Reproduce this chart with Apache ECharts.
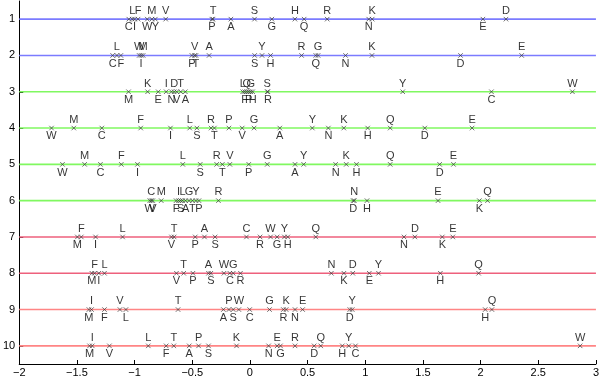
<!DOCTYPE html>
<html>
<head>
<meta charset="utf-8">
<script src="https://cdn.jsdelivr.net/npm/echarts@6/dist/echarts.min.js"></script>
<style>html,body{margin:0;padding:0;background:#fff}#c{width:602px;height:379px}</style>
</head>
<body>
<div id="c"></div>
<script>
// Amino-acid letters (order of values in each row array)
const letters = ['A','C','D','E','F','G','H','I','K','L','M','N','P','Q','R','S','T','V','W','Y'];
const rowNames = ['1','2','3','4','5','6','7','8','9','10'];
const xTicks = { min: -2, max: 3, step: 0.5 };

const row1  = [-0.165,-1.05, 2.22, 2.02,-0.97, 0.19, 0.39,-1.0, 1.06,-1.02,-0.85, 1.03,-0.33, 0.47, 0.67, 0.04,-0.32,-0.73,-0.89,-0.82];
const row2  = [-0.354,-1.19, 1.826,2.356,-1.119,0.591,0.179,-0.943,1.058,-1.153,-0.926,0.829,-0.503,0.571,0.448,0.041,-0.468,-0.48,-0.96,0.105];
const row3  = [-0.56, 2.094,-0.657,-0.795,-0.045,0.007,0.024,-0.726,-0.887,-0.062,-1.052,-0.68,-0.01,-0.027,0.156,0.150,-0.6,-0.634,2.796,1.325];
const row4  = [0.259,-1.284,1.516,1.926,-0.947,0.036,1.021,-0.689,0.814,-0.522,-1.527,0.680,-0.182,1.216,-0.337,-0.46,-0.308,-0.067,-1.72,0.541];
const row5  = [0.391,-1.296,1.645,1.765,-1.115,0.150,0.924,-0.975,0.835,-0.582,-1.433,0.743,-0.01,1.216,-0.288,-0.431,-0.239,-0.174,-1.625,0.466];
const row6  = [-0.558,-0.855,0.895,1.631,-0.640,-0.528,1.015,-0.619,1.989,-0.584,-0.769,0.905,-0.442,2.06,-0.273,-0.601,-0.498,-0.842,-0.868,-0.468];
const row7  = [-0.394,-0.03,1.430,1.759,-1.462,0.236,0.328,-1.338,1.668,-1.104,-1.496,1.336,-0.474,0.571,0.088,-0.302,-0.657,-0.680,0.179,0.299];
const row8  = [-0.359,-0.174,0.892,1.035,-1.347,-0.145,1.651,-1.31,0.815,-1.261,-1.37,0.706,-0.494,1.983,-0.082,-0.339,-0.574,-0.637,-0.225,1.115];
const row9  = [-0.23,-0.002,0.866,0.457,-1.261,0.170,2.040,-1.373,0.314,-1.075,-1.396,0.391,-0.182,2.098,0.29,-0.145,-0.623,-1.127,-0.096,0.887];
const row10 = [-0.526,0.915,0.557,0.236,-0.726,0.265,0.801,-1.367,-0.116,-0.881,-1.39,0.162,-0.445,0.614,0.391,-0.359,-0.66,-1.218,2.863,0.857];

const rows = [row1,row2,row3,row4,row5,row6,row7,row8,row9,row10];
const lineColors = ['#7b7bff','#7b7bff','#80f860','#80f860','#80f860','#80f860','#ee607c','#ee607c','#ff8585','#ff8585'];

const FONT = '"Liberation Sans", Arial, Helvetica, sans-serif';
const series = [];
rows.forEach((vals, r) => {
  const name = rowNames[r];
  series.push({
    type: 'line', data: [[xTicks.min, name],[xTicks.max, name]],
    symbol: 'none', silent: true, z: 1,
    lineStyle: { color: lineColors[r], width: 1.6 }
  });
  // labels alternate below/above in sorted order
  const order = vals.map((v,i)=>i).sort((a,b)=>vals[a]-vals[b]);
  const rank = []; order.forEach((idx,k)=>{ rank[idx]=k; });
  series.push({
    type: 'scatter', z: 3,
    symbol: 'path://M0,0L10,10M10,0L0,10', symbolSize: 4.5,
    itemStyle: { color: 'rgba(0,0,0,0)', borderColor: '#3a3a3a', borderWidth: 0.9 },
    data: vals.map((v,i)=>({
      value: [v, name],
      label: { show: true, formatter: letters[i], position: rank[i] % 2 === 1 ? 'top' : 'bottom',
               distance: 0, color: '#000', fontSize: 11, fontFamily: FONT, lineHeight: 11 }
    }))
  });
});

const chart = echarts.init(document.getElementById('c'), null, { renderer: 'canvas' });
chart.setOption({
  animation: false,
  backgroundColor: '#fff',
  grid: { left: 16, right: 4, top: 1, bottom: 15, containLabel: false },
  xAxis: {
    type: 'value', min: xTicks.min, max: xTicks.max, interval: xTicks.step,
    axisLine: { show: true, onZero: false, lineStyle: { color: '#000', width: 1 } },
    axisTick: { show: true, inside: true, length: 4, lineStyle: { color: '#000' } },
    splitLine: { show: false },
    axisLabel: { color: '#000', fontSize: 11, fontFamily: FONT, margin: 3,
      formatter: v => String(v).replace('-', '\u2212') }
  },
  yAxis: {
    type: 'category', data: rowNames, inverse: true, boundaryGap: true,
    axisLine: { show: true, onZero: false, lineStyle: { color: '#000', width: 1 } },
    axisTick: { show: true, inside: true, length: 4, alignWithLabel: true, lineStyle: { color: '#000' } },
    splitLine: { show: false },
    axisLabel: { color: '#000', fontSize: 11, fontFamily: FONT, margin: 4 }
  },
  series: series
});
</script>
</body>
</html>
